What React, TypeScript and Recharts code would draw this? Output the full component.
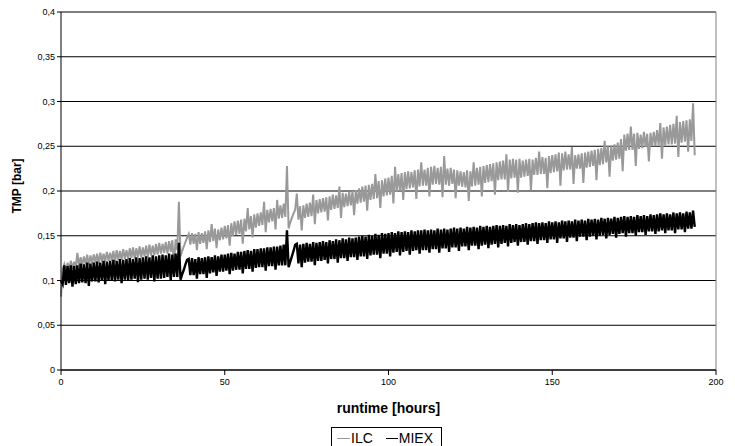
import { CartesianGrid, Label, Line, LineChart, ReferenceLine, XAxis, YAxis } from 'recharts'

// TMP readings every half hour (hours 0 .. 193.5)
const sampleStep = 0.5

const ilcValues = [
  0.082, 0.112, 0.118, 0.110, 0.120, 0.112, 0.122, 0.113, 0.121, 0.114,
  0.131, 0.116, 0.126, 0.117, 0.127, 0.118, 0.129, 0.117, 0.128, 0.119,
  0.129, 0.120, 0.130, 0.119, 0.131, 0.121, 0.130, 0.121, 0.132, 0.122,
  0.131, 0.122, 0.133, 0.121, 0.134, 0.123, 0.133, 0.123, 0.135, 0.124,
  0.134, 0.124, 0.136, 0.125, 0.137, 0.124, 0.136, 0.126, 0.138, 0.126,
  0.137, 0.127, 0.139, 0.126, 0.140, 0.128, 0.139, 0.128, 0.141, 0.129,
  0.142, 0.130, 0.141, 0.131, 0.143, 0.130, 0.144, 0.132, 0.145, 0.118,
  0.146, 0.134, 0.188, 0.127, 0.133, 0.138, 0.143, 0.148, 0.152, 0.140,
  0.153, 0.141, 0.152, 0.134, 0.154, 0.141, 0.153, 0.142, 0.155, 0.135,
  0.156, 0.143, 0.163, 0.144, 0.158, 0.136, 0.157, 0.145, 0.159, 0.146,
  0.161, 0.147, 0.162, 0.139, 0.164, 0.150, 0.166, 0.151, 0.167, 0.152,
  0.168, 0.141, 0.169, 0.155, 0.181, 0.157, 0.172, 0.148, 0.174, 0.159,
  0.175, 0.161, 0.176, 0.162, 0.188, 0.154, 0.179, 0.165, 0.180, 0.166,
  0.181, 0.157, 0.190, 0.169, 0.184, 0.170, 0.186, 0.171, 0.228, 0.158,
  0.165, 0.170, 0.175, 0.179, 0.197, 0.168, 0.183, 0.156, 0.184, 0.170,
  0.186, 0.171, 0.187, 0.172, 0.196, 0.163, 0.190, 0.175, 0.191, 0.176,
  0.192, 0.177, 0.193, 0.167, 0.194, 0.179, 0.196, 0.180, 0.195, 0.181,
  0.205, 0.170, 0.198, 0.182, 0.197, 0.183, 0.199, 0.184, 0.200, 0.173,
  0.201, 0.186, 0.203, 0.187, 0.205, 0.188, 0.206, 0.178, 0.207, 0.190,
  0.208, 0.191, 0.219, 0.192, 0.211, 0.181, 0.212, 0.194, 0.214, 0.195,
  0.215, 0.196, 0.217, 0.186, 0.227, 0.199, 0.219, 0.200, 0.220, 0.190,
  0.221, 0.202, 0.222, 0.203, 0.221, 0.204, 0.223, 0.191, 0.224, 0.205,
  0.232, 0.206, 0.224, 0.206, 0.226, 0.194, 0.227, 0.207, 0.228, 0.208,
  0.226, 0.207, 0.227, 0.193, 0.239, 0.207, 0.225, 0.206, 0.226, 0.208,
  0.224, 0.192, 0.223, 0.206, 0.222, 0.205, 0.221, 0.204, 0.223, 0.189,
  0.222, 0.205, 0.232, 0.206, 0.226, 0.207, 0.227, 0.194, 0.228, 0.209,
  0.229, 0.210, 0.230, 0.211, 0.231, 0.196, 0.232, 0.212, 0.233, 0.213,
  0.234, 0.213, 0.241, 0.199, 0.235, 0.214, 0.236, 0.215, 0.235, 0.198,
  0.236, 0.215, 0.234, 0.216, 0.235, 0.217, 0.236, 0.201, 0.235, 0.218,
  0.237, 0.218, 0.244, 0.219, 0.238, 0.219, 0.237, 0.203, 0.239, 0.220,
  0.240, 0.221, 0.241, 0.222, 0.243, 0.206, 0.242, 0.223, 0.244, 0.224,
  0.241, 0.224, 0.249, 0.208, 0.240, 0.225, 0.241, 0.225, 0.242, 0.209,
  0.243, 0.226, 0.244, 0.227, 0.245, 0.228, 0.246, 0.212, 0.247, 0.229,
  0.248, 0.230, 0.256, 0.232, 0.250, 0.216, 0.251, 0.234, 0.252, 0.235,
  0.254, 0.236, 0.258, 0.222, 0.263, 0.245, 0.264, 0.246, 0.272, 0.246,
  0.264, 0.228, 0.265, 0.247, 0.263, 0.248, 0.266, 0.249, 0.264, 0.233,
  0.265, 0.250, 0.266, 0.250, 0.268, 0.251, 0.276, 0.236, 0.271, 0.251,
  0.272, 0.252, 0.274, 0.252, 0.275, 0.253, 0.284, 0.238, 0.277, 0.254,
  0.278, 0.255, 0.279, 0.244, 0.280, 0.256, 0.298, 0.240,
]

const miexValues = [
  0.100, 0.096, 0.117, 0.095, 0.116, 0.097, 0.117, 0.093, 0.116, 0.096,
  0.117, 0.097, 0.119, 0.098, 0.118, 0.097, 0.120, 0.094, 0.119, 0.099,
  0.120, 0.099, 0.121, 0.098, 0.120, 0.100, 0.122, 0.096, 0.121, 0.100,
  0.122, 0.100, 0.123, 0.099, 0.122, 0.101, 0.124, 0.097, 0.123, 0.101,
  0.124, 0.100, 0.125, 0.101, 0.124, 0.102, 0.126, 0.098, 0.125, 0.101,
  0.126, 0.102, 0.127, 0.101, 0.126, 0.103, 0.128, 0.099, 0.127, 0.102,
  0.128, 0.102, 0.129, 0.103, 0.128, 0.104, 0.130, 0.100, 0.129, 0.104,
  0.130, 0.104, 0.142, 0.101, 0.107, 0.112, 0.118, 0.123, 0.124, 0.106,
  0.125, 0.106, 0.124, 0.102, 0.126, 0.107, 0.125, 0.107, 0.126, 0.103,
  0.127, 0.108, 0.126, 0.109, 0.128, 0.105, 0.127, 0.110, 0.129, 0.110,
  0.129, 0.111, 0.130, 0.107, 0.131, 0.111, 0.130, 0.112, 0.132, 0.112,
  0.132, 0.108, 0.133, 0.113, 0.134, 0.113, 0.133, 0.110, 0.135, 0.114,
  0.135, 0.115, 0.136, 0.115, 0.136, 0.111, 0.137, 0.116, 0.137, 0.116,
  0.138, 0.112, 0.138, 0.117, 0.139, 0.117, 0.140, 0.117, 0.156, 0.115,
  0.121, 0.127, 0.133, 0.140, 0.141, 0.119, 0.140, 0.115, 0.141, 0.120,
  0.142, 0.121, 0.141, 0.121, 0.143, 0.117, 0.142, 0.122, 0.143, 0.122,
  0.144, 0.123, 0.143, 0.119, 0.145, 0.124, 0.144, 0.124, 0.146, 0.120,
  0.145, 0.125, 0.147, 0.125, 0.146, 0.122, 0.148, 0.126, 0.147, 0.126,
  0.148, 0.123, 0.149, 0.127, 0.150, 0.127, 0.149, 0.124, 0.151, 0.128,
  0.150, 0.129, 0.152, 0.129, 0.151, 0.125, 0.153, 0.130, 0.152, 0.130,
  0.153, 0.127, 0.154, 0.131, 0.153, 0.132, 0.155, 0.128, 0.154, 0.132,
  0.155, 0.133, 0.154, 0.129, 0.156, 0.133, 0.155, 0.134, 0.156, 0.130,
  0.156, 0.134, 0.157, 0.134, 0.156, 0.131, 0.157, 0.135, 0.156, 0.135,
  0.158, 0.131, 0.157, 0.136, 0.158, 0.136, 0.157, 0.132, 0.158, 0.137,
  0.159, 0.137, 0.158, 0.133, 0.159, 0.138, 0.158, 0.138, 0.160, 0.134,
  0.159, 0.139, 0.160, 0.139, 0.159, 0.135, 0.161, 0.139, 0.160, 0.140,
  0.161, 0.136, 0.160, 0.140, 0.161, 0.141, 0.162, 0.137, 0.161, 0.141,
  0.162, 0.142, 0.161, 0.138, 0.163, 0.142, 0.162, 0.143, 0.163, 0.139,
  0.162, 0.143, 0.163, 0.143, 0.164, 0.140, 0.163, 0.144, 0.164, 0.144,
  0.165, 0.141, 0.164, 0.145, 0.165, 0.145, 0.164, 0.142, 0.166, 0.146,
  0.165, 0.146, 0.166, 0.142, 0.165, 0.147, 0.167, 0.147, 0.166, 0.143,
  0.167, 0.148, 0.166, 0.148, 0.168, 0.144, 0.167, 0.149, 0.168, 0.149,
  0.167, 0.145, 0.169, 0.149, 0.168, 0.150, 0.169, 0.146, 0.168, 0.150,
  0.170, 0.151, 0.169, 0.147, 0.170, 0.151, 0.169, 0.152, 0.171, 0.148,
  0.170, 0.152, 0.171, 0.153, 0.172, 0.149, 0.171, 0.153, 0.172, 0.153,
  0.171, 0.150, 0.173, 0.154, 0.172, 0.154, 0.173, 0.151, 0.172, 0.155,
  0.174, 0.155, 0.173, 0.152, 0.174, 0.155, 0.175, 0.156, 0.174, 0.153,
  0.175, 0.156, 0.174, 0.156, 0.176, 0.153, 0.175, 0.157, 0.176, 0.157,
  0.175, 0.154, 0.177, 0.158, 0.176, 0.158, 0.178, 0.160,
]

const xTicks = [0, 50, 100, 150, 200]
const yTicks = [0, 0.05, 0.1, 0.15, 0.2, 0.25, 0.3, 0.35, 0.4]

const chartData = ilcValues.map((ilc, i) => ({
  hour: i * sampleStep,
  ilc,
  miex: miexValues[i],
}))

const formatTmp = (v: number) => String(v).replace('.', ',')

function LegendBox() {
  return (
    <div
      style={{
        position: 'absolute',
        left: 331,
        top: 427,
        width: 111,
        height: 24,
        border: '1px solid #000',
        display: 'flex',
        alignItems: 'flex-start',
        paddingTop: 2,
        boxSizing: 'border-box',
        fontSize: 14,
        lineHeight: '16px',
        color: '#000',
      }}
    >
      <span style={{ width: 13, height: 1, background: '#999', marginLeft: 5, marginTop: 8 }} />
      <span style={{ marginLeft: 1 }}>ILC</span>
      <span style={{ width: 12, height: 1, background: '#000', marginLeft: 13, marginTop: 8 }} />
      <span style={{ marginLeft: 1 }}>MIEX</span>
    </div>
  )
}

export default function App() {
  return (
    <div
      style={{
        position: 'absolute',
        left: 0,
        top: 0,
        width: 735,
        height: 446,
        overflow: 'hidden',
        background: '#fff',
        fontFamily: '"Liberation Sans", Arial, sans-serif',
      }}
    >
      <LineChart width={735} height={446} data={chartData} margin={{ top: 12, right: 19, bottom: 26, left: 0 }}>
        <CartesianGrid vertical={false} stroke="#000" horizontalValues={yTicks} />
        <ReferenceLine x={200} stroke="#808080" />
        <ReferenceLine y={0.4} stroke="#808080" />
        <XAxis
          dataKey="hour"
          type="number"
          domain={[0, 200]}
          ticks={xTicks}
          height={50}
          stroke="#000"
          tickSize={5}
          tickMargin={4}
          tick={{ fill: '#000', fontSize: 9 }}
        >
          <Label
            content={({ viewBox }: any) => (
              <text
                x={viewBox.x + viewBox.width / 2}
                y={viewBox.y + 43}
                textAnchor="middle"
                fontSize={14}
                fontWeight="bold"
                fill="#000"
              >
                runtime [hours]
              </text>
            )}
          />
        </XAxis>
        <YAxis
          type="number"
          domain={[0, 0.4]}
          ticks={yTicks}
          width={61}
          stroke="#000"
          tickSize={4}
          tickMargin={2}
          tickFormatter={formatTmp}
          tick={{ fill: '#000', fontSize: 9 }}
        >
          <Label
            content={({ viewBox }: any) => {
              const cx = viewBox.x + 17
              const cy = viewBox.y + viewBox.height / 2 - 5
              return (
                <text
                  x={cx}
                  y={cy}
                  transform={`rotate(-90, ${cx}, ${cy})`}
                  textAnchor="middle"
                  dominantBaseline="central"
                  fontSize={12}
                  fontWeight="bold"
                  fill="#000"
                >
                  TMP [bar]
                </text>
              )
            }}
          />
        </YAxis>
        <Line dataKey="ilc" name="ILC" stroke="#999999" strokeWidth={2} strokeLinejoin="miter" dot={false} isAnimationActive={false} />
        <Line dataKey="miex" name="MIEX" stroke="#000" strokeWidth={2.4} strokeLinejoin="miter" dot={false} isAnimationActive={false} />
      </LineChart>
      <LegendBox />
    </div>
  )
}
